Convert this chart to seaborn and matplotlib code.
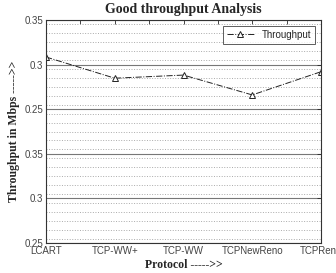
import numpy as np
import pandas as pd
import seaborn as sns
import matplotlib.pyplot as plt
from matplotlib.ticker import MultipleLocator

protocols = ['LCART', 'TCP-WW+', 'TCP-WW', 'TCPNewReno', 'TCPReno']
throughput = [0.3334, 0.3239, 0.3253, 0.3164, 0.3268]
ytick_vals = [0.25, 0.27, 0.29, 0.31, 0.33, 0.35]
ytick_labels = ['0.25', '0.3', '0.35', '0.25', '0.3', '0.35']

df = pd.DataFrame({'pos': np.arange(len(protocols)), 'throughput': throughput})

sns.set_style('white')
plt.rcParams['font.family'] = ['Liberation Sans', 'DejaVu Sans']

fig = plt.figure(figsize=(3.36, 2.73), dpi=100)
ax = fig.add_axes([46 / 336, 1 - 243 / 273, 275 / 336, 223 / 273])

sns.lineplot(data=df, x='pos', y='throughput', ax=ax, sort=False,
             color='#222222', linewidth=0.7, linestyle='-.',
             marker='^', markersize=5, markerfacecolor='white',
             markeredgecolor='#222222', markeredgewidth=0.7,
             label='Throughput')

ax.set_xlim(0, len(protocols) - 1)
ax.set_ylim(0.25, 0.35)
ax.set_xticks(np.arange(len(protocols)))
ax.set_xticklabels(protocols)
ax.xaxis.set_minor_locator(MultipleLocator(0.5))
ax.set_yticks(ytick_vals)
ax.set_yticklabels(ytick_labels)
ax.yaxis.set_minor_locator(MultipleLocator(0.004))

ax.grid(axis='y', which='major', color='#777777', linestyle='-', linewidth=0.8)
ax.grid(axis='y', which='minor', color='#aaaaaa', linestyle=':', linewidth=0.7)
ax.grid(axis='x', which='both', visible=False)

ax.tick_params(axis='both', which='both', direction='in', labelsize=7,
               labelcolor='#444444', top=True, right=True, length=3, width=0.6)
ax.tick_params(axis='y', which='minor', length=0)
ax.tick_params(axis='x', which='major', pad=2)
ax.tick_params(axis='y', which='major', pad=2)

for s in ax.spines.values():
    s.set_color('#333333')
    s.set_linewidth(0.8)

serif = ['Liberation Serif', 'DejaVu Serif']
ax.set_title('Good throughput Analysis', family=serif, fontweight='bold',
             fontsize=10, pad=5)
ax.set_xlabel('Protocol ----->>', family=serif, fontweight='bold',
              fontsize=8.5, labelpad=2)
ax.set_ylabel('Throughput in Mbps ----->>', family=serif, fontweight='bold',
              fontsize=8.5, labelpad=3)

leg = ax.legend(loc='upper right', fontsize=7, frameon=True, fancybox=False,
                handlelength=2.8, borderpad=0.4, borderaxespad=0.6)
leg.get_frame().set_edgecolor('#333333')
leg.get_frame().set_linewidth(0.7)

fig.savefig('out.png', dpi=100)
